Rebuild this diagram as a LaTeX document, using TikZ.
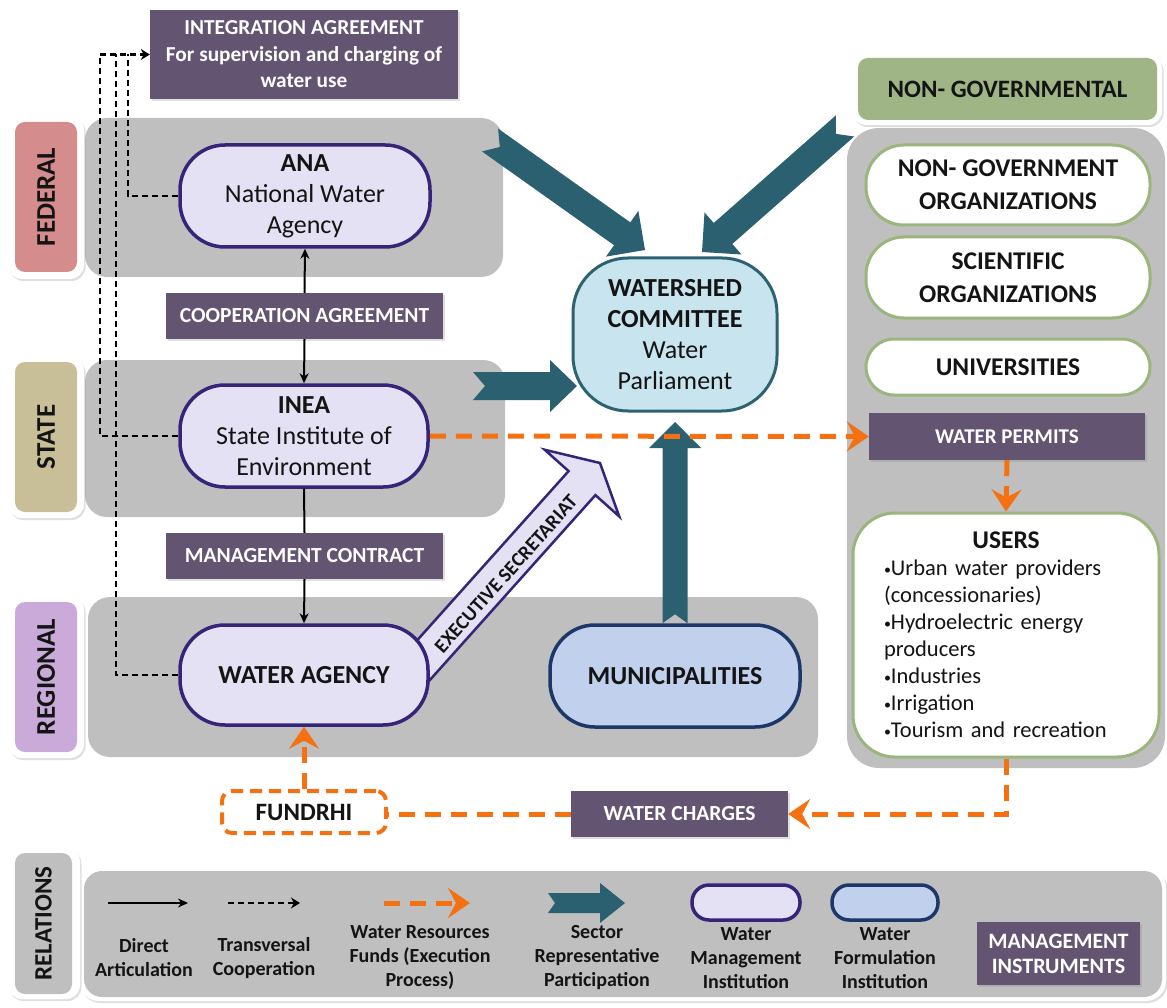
\documentclass[tikz,border=0pt]{standalone}
\usepackage{fontspec}
\setmainfont{Carlito}
\usetikzlibrary{arrows.meta,calc,shadows}
\pgfdeclarelayer{bandlayer}
\pgfdeclarelayer{arrowlayer}
\pgfsetlayers{bandlayer,arrowlayer,main}

\definecolor{instrc}{RGB}{99,84,114}
\definecolor{bandgray}{RGB}{191,191,191}
\definecolor{mgfill}{RGB}{228,225,244}
\definecolor{mgdraw}{RGB}{55,36,120}
\definecolor{fmfill}{RGB}{193,208,236}
\definecolor{fmdraw}{RGB}{30,55,105}
\definecolor{cmfill}{RGB}{200,228,238}
\definecolor{cmdraw}{RGB}{45,98,112}
\definecolor{tealarr}{RGB}{43,96,112}
\definecolor{orangearr}{RGB}{244,112,16}
\definecolor{fedc}{RGB}{212,140,140}
\definecolor{statec}{RGB}{200,191,152}
\definecolor{regc}{RGB}{201,170,216}
\definecolor{ngc}{RGB}{160,181,133}
\definecolor{ngdraw}{RGB}{155,181,125}
\definecolor{txt}{RGB}{20,20,20}

\newcommand\blockarrow[7]{%
  \coordinate (ba-h) at ($(#3)!#6!(#2)$);
  \coordinate (ba-n) at ($(#2)!#7!(#3)$);
  \path[#1] ($(#2)!#4!90:(#3)$) -- ($(ba-h)!#4!90:(#3)$) -- ($(ba-h)!#5!90:(#3)$) -- (#3)
    -- ($(ba-h)!#5!-90:(#3)$) -- ($(ba-h)!#4!-90:(#3)$) -- ($(#2)!#4!-90:(#3)$) -- (ba-n) -- cycle;}
\newcommand\ubul{{\fontsize{14}{14}\selectfont\raisebox{1pt}{•}}}

\begin{document}
\begin{tikzpicture}[x=1pt,y=-1pt,
  shd/.style={drop shadow={shadow xshift=1.5pt,shadow yshift=-2pt,opacity=0.25}},
  band/.style={fill=bandgray, rounded corners=22pt},
  lvlouter/.style={fill=white, rounded corners=14pt, shd},
  lvl/.style={rounded corners=10pt, inner sep=0pt, rotate=90, text=txt,
    font=\bfseries\fontsize{27}{30}\selectfont, minimum width=150pt, minimum height=62pt},
  instr/.style={fill=instrc, text=white, inner sep=0pt, align=center,
    font=\bfseries\fontsize{21.3}{26.5}\selectfont, shd},
  mginst/.style={draw=mgdraw, fill=mgfill, line width=3.5pt, rounded corners=45pt,
    inner sep=0pt, align=center, text=txt, font=\fontsize{26}{31}\selectfont},
  fminst/.style={mginst, draw=fmdraw, fill=fmfill},
  wshed/.style={draw=cmdraw, fill=cmfill, line width=3pt, rounded corners=55pt,
    minimum width=204pt, minimum height=153pt, inner sep=0pt, align=center, text=txt,
    font=\fontsize{26}{31}\selectfont},
  ngo/.style={draw=ngdraw, fill=white, line width=3pt, rounded corners=38pt,
    minimum width=284pt, inner sep=0pt, align=center, text=txt,
    font=\bfseries\fontsize{25.5}{33}\selectfont},
  direct/.style={line width=2pt, -{Stealth[length=10pt,width=9pt]}},
  trans/.style={line width=2.5pt, dash pattern=on 6pt off 4pt},
  fundsline/.style={line width=5pt, orangearr, dash pattern=on 16pt off 10pt},
  funds/.style={fundsline, -{Stealth[length=22pt,width=30pt,inset=8pt]}},
  tealblock/.style={fill=tealarr},
  legtxt/.style={align=center, text=txt, font=\bfseries\fontsize{20}{24}\selectfont}
]
\useasboundingbox (0,0) rectangle (1167,1008);

% ---------- level labels ----------
\path[lvlouter] (8,116) rectangle (84,279);
\node[lvl, fill=fedc] (federal) at (46,197) {FEDERAL};
\path[lvlouter] (8,357) rectangle (84,518);
\node[lvl, fill=statec] (state) at (46,437) {STATE};
\path[lvlouter] (8,596) rectangle (84,758);
\node[lvl, fill=regc] (regional) at (46,677) {REGIONAL};
\path[lvlouter] (8,848) rectangle (80,999);
\node[lvl, fill=bandgray, minimum width=141pt, minimum height=57pt, font=\bfseries\fontsize{25}{28}\selectfont] (relations) at (43.5,923.5) {RELATIONS};
\path[lvlouter] (852,55) rectangle (1162,125);
\node[fill=ngc, rounded corners=10pt, minimum width=299pt, minimum height=62pt, inner sep=0pt,
  text=txt, font=\bfseries\fontsize{25}{28}\selectfont] (nongov) at (1007.5,89) {NON- GOVERNMENTAL};

% ---------- bands ----------
\begin{pgfonlayer}{bandlayer}
\path[band] (85,118) rectangle (503,277);
\path[band] (85,360) rectangle (505,517);
\path[band] (88,597) rectangle (818,757);
\path[band, rounded corners=32pt] (847,128) rectangle (1165,768);
\path[fill=white, rounded corners=20pt, shd] (79,867) rectangle (1166,1001);
\path[band, rounded corners=18pt] (84,871) rectangle (1162,997);
\end{pgfonlayer}

% ---------- instruments ----------
\node[instr, minimum width=308pt, minimum height=89pt] (ia) at (304,54.5)
  {INTEGRATION AGREEMENT\\For supervision and charging of\\water use};
\node[instr, minimum width=277pt, minimum height=46pt, font=\bfseries\fontsize{21.5}{24}\selectfont] (coop) at (304.5,316) {COOPERATION AGREEMENT};
\node[instr, minimum width=277pt, minimum height=46pt, font=\bfseries\fontsize{21.5}{24}\selectfont] (mc) at (304.5,556) {MANAGEMENT CONTRACT};
\node[instr, minimum width=276pt, minimum height=47pt, font=\bfseries\fontsize{21}{23}\selectfont] (wp) at (1007,436.5) {WATER PERMITS};
\node[instr, minimum width=217pt, minimum height=46pt, font=\bfseries\fontsize{21.5}{23}\selectfont] (wch) at (679.5,814) {WATER CHARGES};
\node[instr, minimum width=163pt, minimum height=63pt, font=\bfseries\fontsize{22}{25}\selectfont] (mi) at (1058.5,953.5) {MANAGEMENT\\INSTRUMENTS};

% ---------- institutions ----------
\node[mginst, minimum width=250pt, minimum height=102pt] (ana) at (305,196) {\textbf{ANA}\\National Water\\Agency};
\node[mginst, minimum width=248pt, minimum height=102pt] (inea) at (304,436) {\textbf{INEA}\\State Institute of\\Environment};
\node[mginst, minimum width=248pt, minimum height=100pt, font=\bfseries\fontsize{26}{31}\selectfont] (wa) at (304,675) {WATER AGENCY};
\node[fminst, minimum width=250pt, minimum height=102pt, font=\bfseries\fontsize{26}{31}\selectfont] (mun) at (675,676) {MUNICIPALITIES};
\node[wshed] (wsc) at (675,334.5) {\textbf{WATERSHED}\\\textbf{COMMITTEE}\\Water\\Parliament};

\node[ngo, minimum height=80pt] (ngos) at (1008,185) {NON- GOVERNMENT\\ORGANIZATIONS};
\node[ngo, minimum height=81pt] (sci) at (1008,277.5) {SCIENTIFIC\\ORGANIZATIONS};
\node[ngo, minimum height=56pt, rounded corners=28pt] (uni) at (1008,367) {UNIVERSITIES};
\node[draw=ngdraw, fill=white, line width=3pt, rounded corners=42pt, minimum width=306pt,
  minimum height=244pt, inner sep=0pt, text width=244pt, align=left, text=txt,
  font=\fontsize{22.5}{27}\selectfont] (users) at (1006,635)
  {\makebox[244pt][c]{\bfseries\fontsize{25.5}{27}\selectfont USERS}\\
   \ubul Urban water providers\\(concessionaries)\\\ubul Hydroelectric energy\\producers\\
   \ubul Industries\\\ubul Irrigation\\\ubul Tourism and recreation};

\node[draw=orangearr, line width=4pt, dash pattern=on 12pt off 7pt, fill=white, rounded corners=10pt,
  minimum width=164pt, minimum height=42pt, inner sep=0pt, text=txt,
  font=\bfseries\fontsize{25}{28}\selectfont] (fund) at (304,812) {FUNDRHI};

% ---------- sector participation arrows ----------
\coordinate (t1a) at (490,140);  \coordinate (t1b) at (645,250);
\coordinate (t2a) at (845,126);  \coordinate (t2b) at (702,252);
\coordinate (t3a) at (473,386);  \coordinate (t3b) at (577,386);
\coordinate (t4b) at (675,422);
\coordinate (extail) at (395,692); \coordinate (extip) at (600,463);
\begin{pgfonlayer}{arrowlayer}
\blockarrow{tealblock}{t1a}{t1b}{14pt}{28pt}{28pt}{12pt}
\blockarrow{tealblock}{t2a}{t2b}{14pt}{28pt}{28pt}{12pt}
\blockarrow{tealblock}{t3a}{t3b}{14pt}{26pt}{27pt}{12pt}
\blockarrow{tealblock}{mun.north}{t4b}{12.5pt}{26pt}{26pt}{9pt}
\blockarrow{fill=mgfill, draw=mgdraw, line width=2.5pt, line join=miter}{extail}{extip}{18pt}{50pt}{27pt}{0pt}
\end{pgfonlayer}
\node[rotate=48.2, text=txt, inner sep=0pt, font=\bfseries\fontsize{20}{22}\selectfont] (exsec) at (506,574) {EXECUTIVE SECRETARIAT};

% ---------- direct articulation ----------
\draw[direct] (coop.north) -- (ana.south);
\draw[direct] (coop.south) -- (inea.north);
\draw[line width=2pt] (inea.south) -- (mc.north);
\draw[direct] (mc.south) -- (wa.north);

% ---------- transversal cooperation ----------
\coordinate (tv1) at (100,0);
\coordinate (tv2) at (116,0);
\coordinate (tv3) at (128,0);
\draw[trans] (wa.west) -| (tv2 |- ia.west);
\draw[trans] (ana.west) -| (tv3 |- ia.west);
\draw[trans, -{Stealth[length=9pt,width=11pt]}] (inea.west) -| (tv1 |- ia.west) -- (ia.west);

% ---------- water resources funds ----------
\draw[funds] (inea.east) -- (wp.west);
\draw[funds] (wp.south) -- (users.north);
\draw[funds] (users.south) |- (wch.east);
\draw[fundsline] (wch.west) -- (fund.east |- wch.west);
\draw[funds] (fund.north) -- (wa.south);

% ---------- legend ----------
\coordinate (lg1a) at (108,903); \coordinate (lg1b) at (188,903);
\coordinate (lg2a) at (228,903); \coordinate (lg2b) at (300,903);
\coordinate (lg3a) at (384,903); \coordinate (lg3b) at (470,903);
\coordinate (lg4a) at (548,903); \coordinate (lg4b) at (625,903);
\draw[direct] (lg1a) -- (lg1b);
\draw[trans, -{Stealth[length=9pt,width=11pt]}] (lg2a) -- (lg2b);
\draw[funds] (lg3a) -- (lg3b);
\blockarrow{tealblock}{lg4a}{lg4b}{10pt}{20pt}{25pt}{7pt}
\node[mginst, minimum width=108pt, minimum height=35pt, rounded corners=17pt] (lgmg) at (746,902.5) {};
\node[fminst, minimum width=106pt, minimum height=35pt, rounded corners=17pt] (lgfm) at (885,902.5) {};
\node[legtxt] (lgt1) at (144,958) {Direct\\Articulation};
\node[legtxt] (lgt2) at (264,958) {Transversal\\Cooperation};
\node[legtxt] (lgt3) at (420,958) {Water Resources\\Funds (Execution\\Process)};
\node[legtxt] (lgt4) at (597,958) {Sector\\Representative\\Participation};
\node[legtxt] (lgt5) at (746,958) {Water\\Management\\Institution};
\node[legtxt] (lgt6) at (885,958) {Water\\Formulation\\Institution};
\end{tikzpicture}
\end{document}
